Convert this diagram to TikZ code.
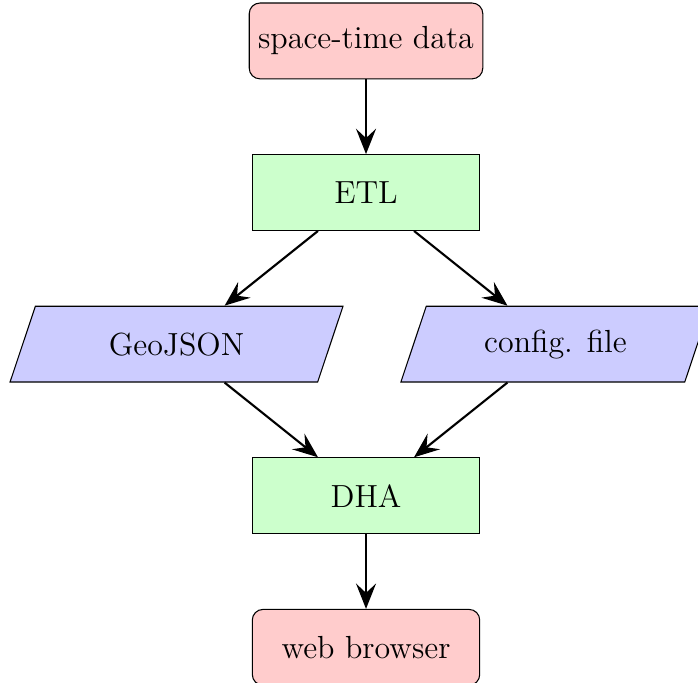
\documentclass[tikz,border=0pt]{standalone}
\usetikzlibrary{shapes.geometric,arrows.meta}
\tikzset{
  startstop/.style={rectangle, rounded corners, minimum width=3cm, minimum height=1cm, text centered, draw=black, fill=red!20, font=\large},
  process/.style={rectangle, minimum width=3cm, minimum height=1cm, text centered, draw=black, fill=green!20, font=\large},
  io/.style={trapezium, trapezium left angle=71.5, trapezium right angle=108.5, inner xsep=3.2pt, minimum width=3cm, minimum height=1cm, text centered, draw=black, fill=blue!20, font=\large},
  arrow/.style={thick,-{Stealth[length=9.5pt,width=7.5pt,inset=3.5pt]}}
}
\begin{document}
\begin{tikzpicture}
\useasboundingbox (-4.829,2.540) rectangle (4.380,-6.471);
\node[startstop] (start) at (0,2) {space-time data};
\node[process] (etl) at (0,0) {ETL};
\node[io] (geo) at (-2.5,-2) {GeoJSON};
\node[io] (cfg) at (2.5,-2) {config. file};
\node[process] (dha) at (0,-4) {DHA};
\node[startstop] (web) at (0,-6) {web browser};
\draw[arrow] (start) -- (etl);
\draw[arrow] (etl) -- (geo);
\draw[arrow] (etl) -- (cfg);
\draw[arrow] (geo) -- (dha);
\draw[arrow] (cfg) -- (dha);
\draw[arrow] (dha) -- (web);
\end{tikzpicture}
\end{document}
